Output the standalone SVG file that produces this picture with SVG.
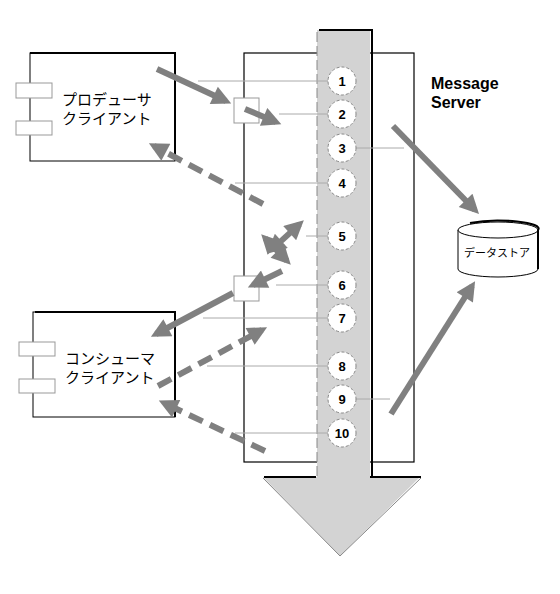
<svg xmlns="http://www.w3.org/2000/svg" width="560" height="594" viewBox="0 0 560 594">
<style>
.box{fill:#fff;stroke:#000;stroke-width:1}
.port{fill:#fff;stroke:#999;stroke-width:1}
.jp{font-family:"Noto Sans CJK JP","Noto Sans",sans-serif;fill:#000}
.num{font-family:"Liberation Sans",Arial,sans-serif;font-weight:bold;font-size:13px;text-anchor:middle;fill:#000}
.hl{stroke:#aaa;stroke-width:1;fill:none}
.circ{fill:#fff;stroke:#888;stroke-width:1;stroke-dasharray:3,2}
.arr{stroke:#808080;stroke-width:6;fill:none;marker-end:url(#ah)}
.dash{stroke-dasharray:15,8}
.dbl{marker-start:url(#ahs)}
</style>
<defs>
<marker id="ah" viewBox="0 0 10 10" markerWidth="3.4" markerHeight="3.2" refX="7" refY="5" orient="auto" markerUnits="strokeWidth">
<path d="M0,0 L10,5 L0,10 Z" fill="#808080"/>
</marker>
<marker id="ahs" viewBox="0 0 10 10" markerWidth="3.4" markerHeight="3.2" refX="7" refY="5" orient="auto-start-reverse" markerUnits="strokeWidth">
<path d="M0,0 L10,5 L0,10 Z" fill="#808080"/>
</marker>
</defs>
<rect width="560" height="594" fill="#fff"/>

<g id="server">
<rect x="244" y="53" width="170" height="409" fill="#fff" stroke="#000" stroke-width="1.2"/>
<text x="431" y="89" font-family="Liberation Sans,Arial,sans-serif" font-weight="bold" font-size="16">Message</text>
<text x="431" y="108" font-family="Liberation Sans,Arial,sans-serif" font-weight="bold" font-size="16">Server</text>
</g>

<g id="queue-arrow">
<path d="M317,30 H370 V477 H420 L340,556 L263,477 H317 Z" fill="#d3d3d3"/>
<path d="M319,30 H372 V476" fill="none" stroke="#000" stroke-width="2"/>
<path d="M264,477 H316 M370,477 H421" fill="none" stroke="#000" stroke-width="2"/>
<path d="M317,32 V476" fill="none" stroke="#888" stroke-width="1" stroke-dasharray="10,4"/>
<path d="M263,478 L340,556 L421,478" fill="none" stroke="#888" stroke-width="1"/>
</g>

<g id="producer">
<rect class="box" x="30" y="53" width="145" height="108"/>
<path d="M30,53 H175 V161" fill="none" stroke="#000" stroke-width="2"/>
<rect class="port" x="16" y="83" width="36" height="15"/>
<rect class="port" x="16" y="121" width="36" height="14"/>
<text class="jp" x="62" y="105" font-size="15">プロデューサ</text>
<text class="jp" x="62" y="124" font-size="15">クライアント</text>
</g>

<g id="consumer">
<rect class="box" x="33" y="312" width="142" height="105"/>
<path d="M35,312 H175 V417" fill="none" stroke="#000" stroke-width="2"/>
<rect class="port" x="19" y="342" width="36" height="14"/>
<rect class="port" x="19" y="379" width="36" height="14"/>
<text class="jp" x="65" y="364" font-size="15">コンシューマ</text>
<text class="jp" x="65" y="383" font-size="15">クライアント</text>
</g>

<g id="datastore">
<path d="M458,230 V269 A40,8 0 0 0 538,269 V230" fill="#fff" stroke="#000" stroke-width="1"/>
<ellipse cx="498" cy="230" rx="40" ry="8" fill="#fff" stroke="#000" stroke-width="1"/>
<path d="M470,223 A40,8 0 0 1 538,230 V269" fill="none" stroke="#000" stroke-width="2"/>
<text class="jp" x="497" y="257" font-size="11" text-anchor="middle">データストア</text>
</g>

<g id="ports">
<rect class="port" x="234" y="98" width="25" height="25" stroke="#666"/>
<rect class="port" x="234" y="276" width="25" height="25" stroke="#666"/>
</g>

<g id="ticks">
<line class="hl" x1="198" y1="81" x2="328" y2="81"/>
<line class="hl" x1="279" y1="114" x2="328" y2="114"/>
<line class="hl" x1="356" y1="148" x2="404" y2="148"/>
<line class="hl" x1="235" y1="183" x2="328" y2="183"/>
<line class="hl" x1="306" y1="236" x2="328" y2="236"/>
<line class="hl" x1="276" y1="285" x2="328" y2="285"/>
<line class="hl" x1="203" y1="318" x2="328" y2="318"/>
<line class="hl" x1="207" y1="366" x2="328" y2="366"/>
<line class="hl" x1="356" y1="399" x2="390" y2="399"/>
<line class="hl" x1="235" y1="433" x2="328" y2="433"/>
</g>

<g id="messages">
<g id="m1"><circle class="circ" cx="342" cy="81" r="14"/><text class="num" x="342" y="85.5">1</text></g>
<g id="m2"><circle class="circ" cx="342" cy="114" r="14"/><text class="num" x="342" y="118.5">2</text></g>
<g id="m3"><circle class="circ" cx="342" cy="148" r="14"/><text class="num" x="342" y="152.5">3</text></g>
<g id="m4"><circle class="circ" cx="342" cy="183" r="14"/><text class="num" x="342" y="187.5">4</text></g>
<g id="m5"><circle class="circ" cx="342" cy="236" r="14"/><text class="num" x="342" y="240.5">5</text></g>
<g id="m6"><circle class="circ" cx="342" cy="285" r="14"/><text class="num" x="342" y="289.5">6</text></g>
<g id="m7"><circle class="circ" cx="342" cy="318" r="14"/><text class="num" x="342" y="322.5">7</text></g>
<g id="m8"><circle class="circ" cx="342" cy="366" r="14"/><text class="num" x="342" y="370.5">8</text></g>
<g id="m9"><circle class="circ" cx="342" cy="399" r="14"/><text class="num" x="342" y="403.5">9</text></g>
<g id="m10"><circle class="circ" cx="342" cy="433" r="14"/><text class="num" x="342" y="437.5">10</text></g>
</g>

<g id="connectors">
<line class="arr" x1="157" y1="69" x2="226" y2="101"/>
<line class="arr" x1="245" y1="109" x2="276" y2="122"/>
<line class="arr dash" x1="263" y1="204" x2="154" y2="146"/>
<line class="arr dbl" x1="265.2" y1="238.3" x2="286.8" y2="260.7"/>
<line class="arr dbl" x1="299.6" y1="224.1" x2="271.4" y2="249.9"/>
<line class="arr" x1="282" y1="271" x2="253" y2="285"/>
<line class="arr" x1="233" y1="293" x2="156" y2="334"/>
<line class="arr dash" x1="158" y1="386" x2="262" y2="330"/>
<line class="arr dash" x1="265" y1="451" x2="164" y2="403"/>
<line class="arr" x1="393" y1="126" x2="475" y2="210"/>
<line class="arr" x1="391" y1="414" x2="472" y2="286"/>
</g>
</svg>
